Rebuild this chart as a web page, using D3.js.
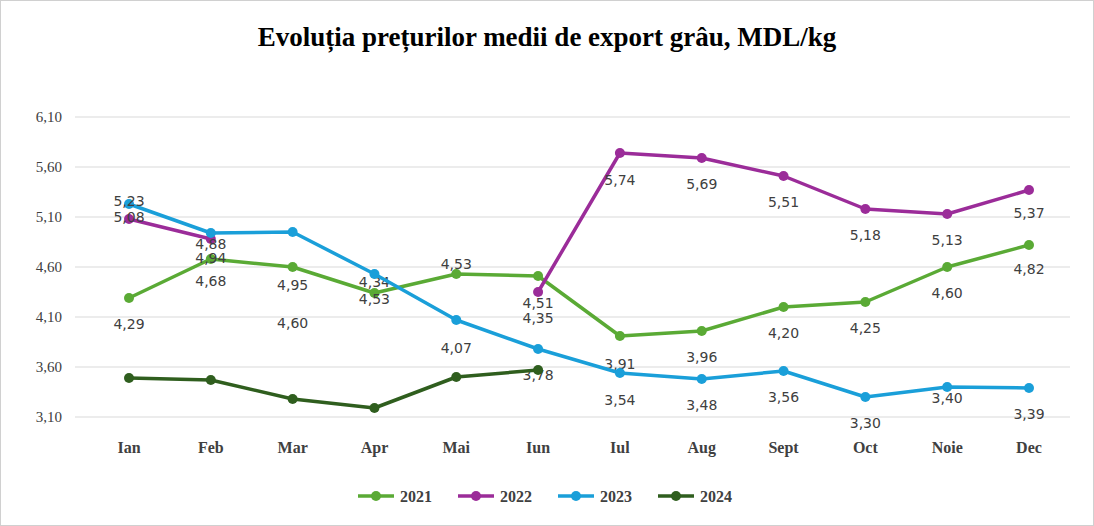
<!DOCTYPE html>
<html><head><meta charset="utf-8">
<script src="https://cdn.jsdelivr.net/npm/d3@7"></script>
<style>body{margin:0;background:#fff}svg{display:block}</style>
</head><body><svg id="c" width="1094" height="526"></svg>
<script>
var months = ["Ian","Feb","Mar","Apr","Mai","Iun","Iul","Aug","Sept","Oct","Noie","Dec"];
var yTicks = [3.10,3.60,4.10,4.60,5.10,5.60,6.10];
var v2021 = [4.29,4.68,4.60,4.34,4.53,4.51,3.91,3.96,4.20,4.25,4.60,4.82];
var v2022 = [5.08,4.88,null,null,null,4.35,5.74,5.69,5.51,5.18,5.13,5.37];
var v2023 = [5.23,4.94,4.95,4.53,4.07,3.78,3.54,3.48,3.56,3.30,3.40,3.39];
var v2024 = [3.49,3.47,3.28,3.19,3.50,3.57,null,null,null,null,null,null];
// label baseline offsets from the point (positive = below)
var lab2021 = [31,27,61,-6,-5,32,33,31,31,31,31,29];
var lab2022 = [3,10,0,0,0,31,32,31,31,31,31,28];
var lab2023 = [2,30,58,30,33,31,32,31,31,31,16,31];

var series = [
  {name:"2021", color:"#5aaa35", vals:v2021, lab:lab2021},
  {name:"2022", color:"#9b2c99", vals:v2022, lab:lab2022},
  {name:"2023", color:"#1a9fd9", vals:v2023, lab:lab2023},
  {name:"2024", color:"#2f5e1e", vals:v2024, lab:null}
];

var svg = d3.select("#c");
var font = "'Liberation Serif','Times New Roman',serif";
svg.append("rect").attr("x",0.5).attr("y",0.5).attr("width",1093).attr("height",525)
  .attr("fill","#fff").attr("stroke","#d0d0d0");
svg.append("text").attr("x",547).attr("y",46).attr("text-anchor","middle")
  .attr("font-family",font).attr("font-weight","bold").attr("font-size",27)
  .text("Evoluția prețurilor medii de export grâu, MDL/kg");

var x = d3.scalePoint().domain(months).range([129,1029]);
var y = d3.scaleLinear().domain([3.10,6.10]).range([417,117]);

svg.append("g").selectAll("line").data(yTicks).join("line")
  .attr("x1",75).attr("x2",1070).attr("y1",d=>y(d)).attr("y2",d=>y(d))
  .attr("stroke","#d9d9d9");
svg.append("g").selectAll("text").data(yTicks).join("text")
  .attr("x",62).attr("y",d=>y(d)+5).attr("text-anchor","end")
  .attr("font-family",font).attr("font-size",15).attr("fill","#404040")
  .text(d=>d.toFixed(2).replace(".",","));
svg.append("g").selectAll("text").data(months).join("text")
  .attr("x",d=>x(d)).attr("y",453).attr("text-anchor","middle")
  .attr("font-family",font).attr("font-weight","bold").attr("font-size",16).attr("fill","#404040")
  .text(d=>d);

var line = d3.line().defined(d=>d.v!=null).x(d=>x(d.m)).y(d=>y(d.v));
series.forEach(function(s){
  var pts = s.vals.map((v,i)=>({m:months[i],v:v}));
  var g = svg.append("g");
  g.append("path").datum(pts).attr("d",line).attr("fill","none")
    .attr("stroke",s.color).attr("stroke-width",3.5).attr("stroke-linejoin","round");
  g.selectAll("circle").data(pts.filter(d=>d.v!=null)).join("circle")
    .attr("cx",d=>x(d.m)).attr("cy",d=>y(d.v)).attr("r",5).attr("fill",s.color);
  if(s.lab){
    g.selectAll("text").data(pts.map((d,i)=>({m:d.m,v:d.v,dy:s.lab[i]})).filter(d=>d.v!=null))
      .join("text").attr("x",d=>x(d.m)).attr("y",d=>y(d.v)+d.dy)
      .attr("text-anchor","middle").attr("font-family","'DejaVu Sans',sans-serif")
      .attr("font-size",14).attr("fill","#404040")
      .text(d=>d.v.toFixed(2).replace(".",","));
  }
});

var lg = svg.append("g").selectAll("g").data(series).join("g")
  .attr("transform",(d,i)=>"translate("+(358+i*100)+",496)");
lg.append("line").attr("x1",0).attr("x2",36).attr("stroke",d=>d.color).attr("stroke-width",3.5);
lg.append("circle").attr("cx",18).attr("r",5).attr("fill",d=>d.color);
lg.append("text").attr("x",42).attr("y",6).attr("font-family",font).attr("font-weight","bold")
  .attr("font-size",16).attr("fill","#404040").text(d=>d.name);
</script></body></html>
